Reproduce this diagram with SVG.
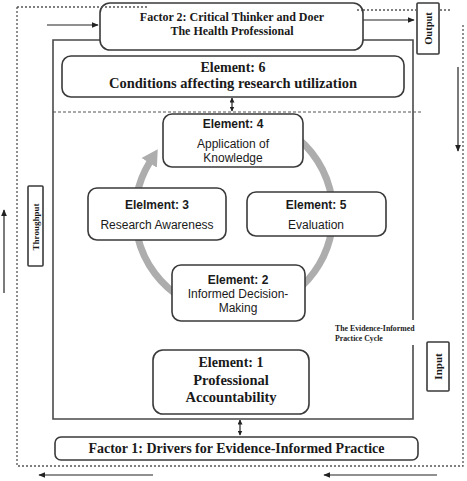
<svg xmlns="http://www.w3.org/2000/svg" width="467" height="481" viewBox="0 0 467 481">
<style>
.box{fill:#fff;stroke:#3a3a3a;stroke-width:1.6}
.frame{fill:none;stroke:#4a4a4a;stroke-width:1.6}
.dot{fill:none;stroke:#555;stroke-width:1.3;stroke-dasharray:2 2}
.dash{fill:none;stroke:#555;stroke-width:1.2;stroke-dasharray:3 2}
.arr{fill:none;stroke:#222;stroke-width:1.2;marker-end:url(#ah)}
.dbl{fill:none;stroke:#222;stroke-width:1.2;marker-start:url(#ahs);marker-end:url(#ahs)}
.ser{font-family:"Liberation Serif",serif;font-weight:bold;fill:#1a1a1a;text-anchor:middle}
.sans{font-family:"Liberation Sans",Arial,sans-serif;fill:#1a1a1a;text-anchor:middle;font-size:12px}
.b{font-weight:bold}
</style>
<defs>
<marker id="ah" viewBox="0 0 10 10" refX="9" refY="5" markerWidth="7" markerHeight="6" markerUnits="userSpaceOnUse" orient="auto" preserveAspectRatio="none">
<path d="M0,0 L10,5 L0,10 z" fill="#222"/>
</marker>
<marker id="ahs" viewBox="0 0 10 10" refX="9" refY="5" markerWidth="5" markerHeight="5" markerUnits="userSpaceOnUse" orient="auto-start-reverse" preserveAspectRatio="none">
<path d="M0,0 L10,5 L0,10 z" fill="#222"/>
</marker>
<marker id="gh" viewBox="0 0 10 10" refX="1" refY="5" markerWidth="16" markerHeight="18" markerUnits="userSpaceOnUse" orient="auto" preserveAspectRatio="none">
<path d="M0,0 L10,5 L0,10 z" fill="#adadad"/>
</marker>
</defs>

<g id="frames">
<path class="dot" d="M17,7 H100 M17,7 V466 H463 V25 M363,10 H416 M440,10 H452"/>
<path class="frame" d="M100,40 H53 V419 H413 V345 M413,320 V40 H363"/>
<path class="dash" d="M53,112 H421"/>
</g>

<g id="cycle-arrow">
<path d="M283.5,128.3 A99,99 0 1 1 150.1,161.5" fill="none" stroke="#adadad" stroke-width="7" marker-end="url(#gh)"/>
</g>

<g id="connectors">
<path class="arr" d="M47,25 H98"/>
<path class="arr" d="M363,20 H414"/>
<path class="arr" d="M4,293 V210"/>
<path class="arr" d="M458,67 V151"/>
<path class="arr" d="M153,475 H39"/>
<path class="arr" d="M437,475 H324"/>
<path class="dbl" d="M232,98 V111"/>
<path class="dbl" d="M240,420 V435"/>
</g>

<g id="factor2">
<rect class="box" x="100" y="3" width="263" height="47" rx="10"/>
<path class="dot" d="M101,7 H148 M357,10 H362"/>
<text class="ser" x="232" y="21" font-size="12">Factor 2: Critical Thinker and Doer</text>
<text class="ser" x="232" y="35" font-size="12">The Health Professional</text>
</g>

<g id="output">
<rect class="box" x="417" y="3" width="22" height="51" rx="1"/>
<text class="ser" transform="translate(432,28.5) rotate(-90)" font-size="10.5">Output</text>
</g>

<g id="element6">
<rect class="box" x="62" y="56" width="342" height="41" rx="9"/>
<text class="ser" x="233" y="72" font-size="14">Element: 6</text>
<text class="ser" x="233" y="88" font-size="14.5">Conditions affecting research utilization</text>
</g>

<g id="element4">
<rect class="box" x="163" y="114" width="140" height="53" rx="9"/>
<text class="sans b" x="233" y="128">Element: 4</text>
<text class="sans" x="233" y="148">Application of</text>
<text class="sans" x="233" y="162">Knowledge</text>
</g>

<g id="element3">
<rect class="box" x="88" y="188" width="138" height="52" rx="9"/>
<text class="sans b" x="157" y="209">Elelment: 3</text>
<text class="sans" x="157" y="229">Research Awareness</text>
</g>

<g id="element5">
<rect class="box" x="247" y="192" width="139" height="44" rx="9"/>
<text class="sans b" x="316" y="209">Element: 5</text>
<text class="sans" x="316" y="229">Evaluation</text>
</g>

<g id="element2">
<rect class="box" x="172" y="265" width="133" height="56" rx="9"/>
<text class="sans b" x="238" y="284">Element: 2</text>
<text class="sans" x="238" y="298">Informed Decision-</text>
<text class="sans" x="238" y="312">Making</text>
</g>

<g id="throughput">
<rect class="box" x="28" y="186" width="15" height="80" rx="1"/>
<text class="ser" transform="translate(38.5,227) rotate(-90)" font-size="9">Throughput</text>
</g>

<g id="cycle-label">
<text font-family="Liberation Serif,serif" font-weight="bold" font-size="7.8" fill="#1a1a1a" x="335" y="331">The Evidence-Informed</text>
<text font-family="Liberation Serif,serif" font-weight="bold" font-size="7.8" fill="#1a1a1a" x="335" y="341">Practice Cycle</text>
</g>

<g id="input">
<rect class="box" x="427" y="342" width="22" height="49" rx="1"/>
<text class="ser" transform="translate(442,366.5) rotate(-90)" font-size="11">Input</text>
</g>

<g id="element1">
<rect class="box" x="153" y="350" width="156" height="64" rx="10"/>
<text class="ser" x="231" y="367" font-size="14">Element: 1</text>
<text class="ser" x="231" y="385" font-size="14.5">Professional</text>
<text class="ser" x="231" y="402" font-size="14.5">Accountability</text>
</g>

<g id="factor1">
<rect class="box" x="55" y="437" width="363" height="23" rx="6"/>
<text class="ser" x="236.5" y="453" font-size="14">Factor 1: Drivers for Evidence-Informed Practice</text>
</g>
</svg>
